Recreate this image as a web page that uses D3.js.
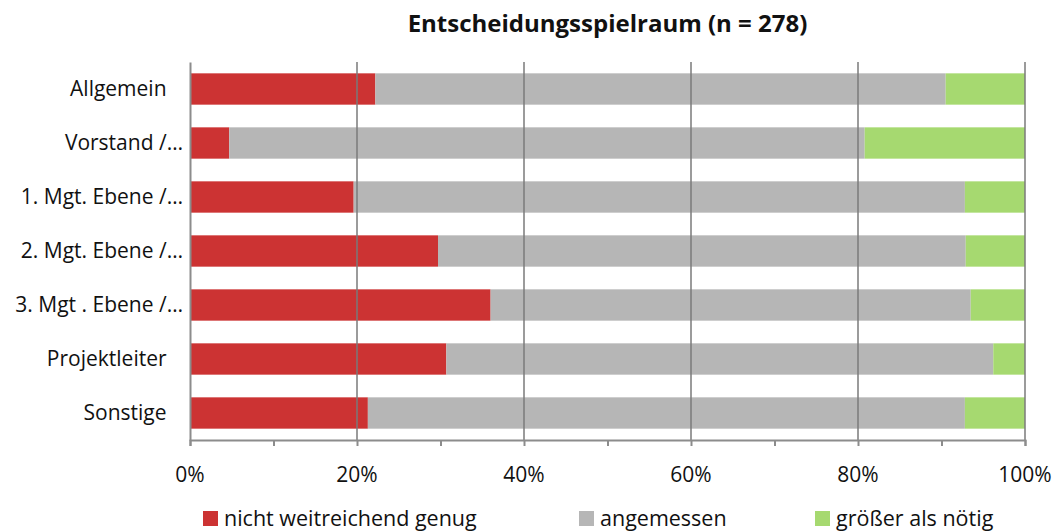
<!DOCTYPE html>
<html>
<head>
<meta charset="utf-8">
<script src="https://cdn.jsdelivr.net/npm/d3@7"></script>
<style>
  body { margin: 0; background: #fff; }
  text { font-family: "Open Sans", Lato, sans-serif; fill: #111; }
</style>
</head>
<body>
<script>
// categories (top to bottom), trailing spaces as in the original labels
var categories = ["Allgemein ", "Vorstand /…", "1. Mgt. Ebene /…", "2. Mgt. Ebene /…", "3. Mgt . Ebene /…", "Projektleiter ", "Sonstige "];
var seriesNames = ["nicht weitreichend genug", "angemessen", "größer als nötig"];
var seriesColors = ["#CC3333", "#B6B6B6", "#A6D970"];

// percent values per series
var nichtGenug = [22.2, 4.7, 19.6, 29.7, 36.0, 30.7, 21.3];
var angemessen = [68.3, 76.1, 73.2, 63.2, 57.5, 65.5, 71.5];
var groesser   = [9.5, 19.2, 7.2, 7.1, 6.5, 3.8, 7.2];

var xTicks = [0, 20, 40, 60, 80, 100];
var xMinorTicks = d3.range(0, 101, 10);

var width = 1062, height = 531;
var margin = {top: 62, right: 37, bottom: 91, left: 190};
var w = width - margin.left - margin.right;
var h = height - margin.top - margin.bottom;

var svg = d3.select("body").append("svg")
    .attr("width", width)
    .attr("height", height);

var g = svg.append("g")
    .attr("transform", "translate(" + margin.left + "," + margin.top + ")");

var x = d3.scaleLinear().domain([0, 100]).range([0, w]);
var y = d3.scaleBand().domain(categories).range([0, h]).paddingInner(0.42).paddingOuter(0.21);

var table = categories.map(function(c, i) {
    return {cat: c, s0: nichtGenug[i], s1: angemessen[i], s2: groesser[i]};
});
var stack = d3.stack().keys(["s0", "s1", "s2"])(table);

g.selectAll("g.series")
    .data(stack)
    .enter().append("g")
    .attr("class", "series")
    .attr("fill", function(d, i) { return seriesColors[i]; })
    .selectAll("rect")
    .data(function(d) { return d; })
    .enter().append("rect")
    .attr("x", function(d) { return x(d[0]); })
    .attr("width", function(d) { return x(d[1]) - x(d[0]); })
    .attr("y", function(d) { return y(d.data.cat); })
    .attr("height", y.bandwidth());

// gridlines (drawn on top, partly see-through like the original)
g.selectAll("line.grid")
    .data(xTicks.slice(1))
    .enter().append("line")
    .attr("class", "grid")
    .attr("x1", function(d) { return x(d); })
    .attr("x2", function(d) { return x(d); })
    .attr("y1", 0)
    .attr("y2", h)
    .attr("stroke", "#7a7a7a")
    .attr("stroke-opacity", 0.75)
    .attr("stroke-width", 2);

// bottom axis
var xAxis = g.append("g")
    .attr("transform", "translate(0," + h + ")")
    .call(d3.axisBottom(x).tickValues(xMinorTicks).tickSize(6).tickFormat(""));
xAxis.select(".domain").attr("stroke", "#8c8c8c").attr("stroke-width", 2);
xAxis.selectAll(".tick line").attr("stroke", "#8c8c8c").attr("stroke-width", 2);

g.selectAll("text.xlab")
    .data(xTicks)
    .enter().append("text")
    .attr("class", "xlab")
    .attr("x", function(d) { return x(d); })
    .attr("y", h + 42)
    .attr("text-anchor", "middle")
    .style("font-size", "21px")
    .text(function(d) { return d + "%"; });

// left axis
var yAxis = g.append("g")
    .call(d3.axisLeft(y).tickSize(0).tickPadding(7));
yAxis.select(".domain").attr("stroke", "#8c8c8c").attr("stroke-width", 2);
yAxis.selectAll("text")
    .style("font-size", "21px")
    .style("font-family", "'Open Sans', Lato, sans-serif")
    .style("white-space", "pre")
    .attr("dx", function(d) { return d.endsWith(" ") ? -11 : 0; }) // Excel's wider trailing space
    .attr("fill", "#111");

// title
svg.append("text")
    .attr("x", margin.left + w / 2)
    .attr("y", 32)
    .attr("text-anchor", "middle")
    .style("font-size", "24px")
    .style("font-weight", "bold")
    .text("Entscheidungsspielraum (n = 278)");

// legend
var legendX = [203, 579, 815];
var legend = svg.selectAll("g.legend")
    .data(seriesNames)
    .enter().append("g")
    .attr("class", "legend")
    .attr("transform", function(d, i) { return "translate(" + legendX[i] + ",511)"; });
legend.append("rect")
    .attr("width", 15).attr("height", 15)
    .attr("fill", function(d, i) { return seriesColors[i]; });
legend.append("text")
    .attr("x", 21).attr("y", 15)
    .style("font-size", "21.5px")
    .text(function(d) { return d; });
</script>
</body>
</html>
